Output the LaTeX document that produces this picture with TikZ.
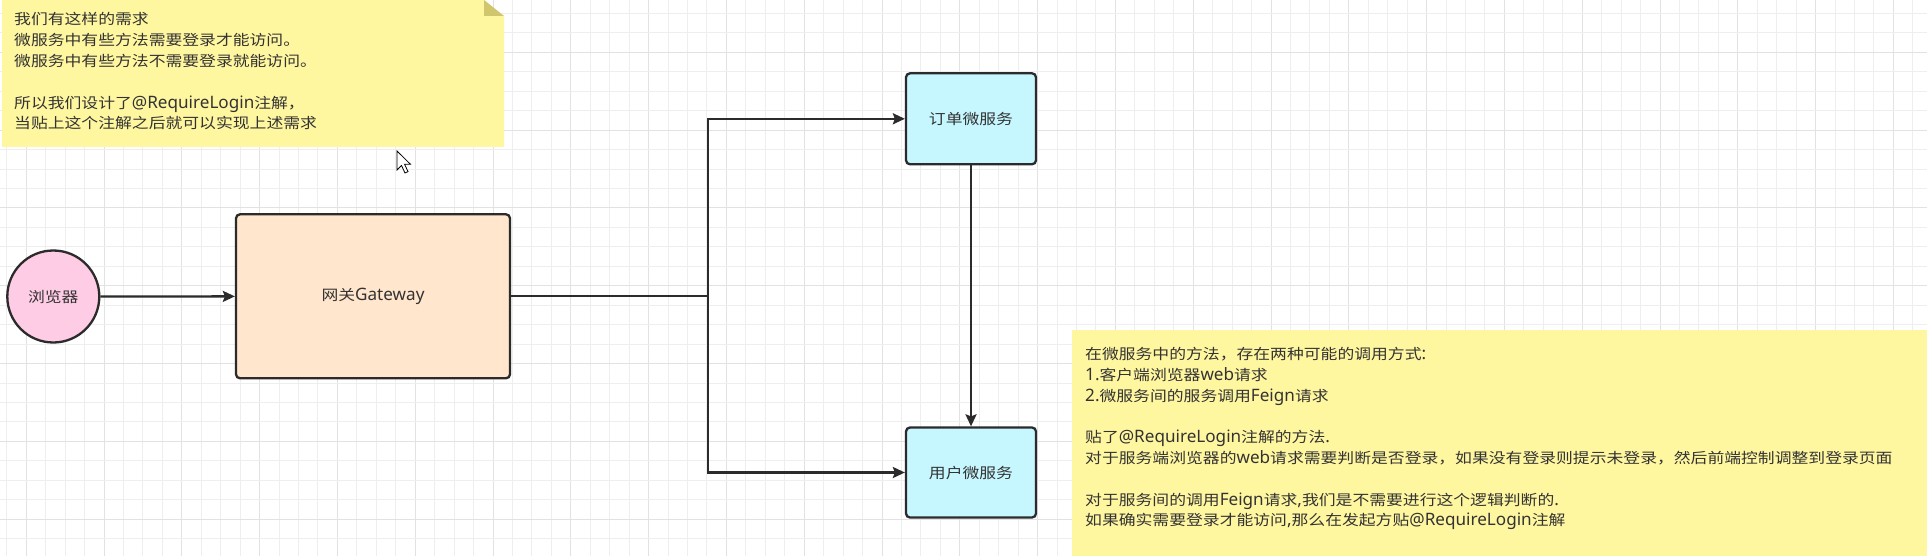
\documentclass[tikz,border=0pt]{standalone}
\usepackage{fontspec}
\setmainfont{Noto Sans CJK SC}[FakeStretch=1.16]
\newfontfamily\latfont{Noto Sans}[Scale=1.18]
\newcommand{\LL}[1]{{\latfont #1}}
\usetikzlibrary{arrows.meta}
\definecolor{txt}{HTML}{333333}
\definecolor{edge}{HTML}{2B2B2B}
\definecolor{notefill}{RGB}{255,246,160}
\definecolor{notefold}{RGB}{207,198,110}
\definecolor{pinkfill}{RGB}{255,204,230}
\definecolor{peachfill}{RGB}{255,230,204}
\definecolor{cyanfill}{RGB}{198,247,255}
\definecolor{gridminor}{RGB}{238,238,238}
\definecolor{gridmajor}{RGB}{226,226,226}
\tikzset{
  every node/.style={font=\fontsize{14.5}{20.8}\selectfont, text=txt},
  boxstyle/.style={draw=edge, line width=2.3pt, rounded corners=4pt, inner sep=0pt},
  notetext/.style={align=left, anchor=north west, inner sep=0pt},
  conn/.style={draw=edge, line width=2.3pt, -{Stealth[length=12pt,width=11pt,inset=2pt]}},
  plainconn/.style={draw=edge, line width=2.3pt},
}
\begin{document}
\begin{tikzpicture}[x=1pt,y=-1pt]
\useasboundingbox (0,0) rectangle (1927,556);
\fill[white] (0,0) rectangle (1927,556);
% grid
\foreach \k in {0,...,99}{
  \pgfmathsetmacro{\gx}{6.75+19.45*\k}
  \pgfmathtruncatemacro{\m}{mod(\k,4)}
  \ifnum\m=1
    \draw[gridmajor, line width=1pt] (\gx,0) -- (\gx,556);
  \else
    \draw[gridminor, line width=1pt] (\gx,0) -- (\gx,556);
  \fi
}
\foreach \k in {0,...,28}{
  \pgfmathsetmacro{\gy}{13.5+19.45*\k}
  \pgfmathtruncatemacro{\m}{mod(\k,4)}
  \ifnum\m=2
    \draw[gridmajor, line width=1pt] (0,\gy) -- (1927,\gy);
  \else
    \draw[gridminor, line width=1pt] (0,\gy) -- (1927,\gy);
  \fi
}
% top note
\fill[notefill] (2,0) -- (484,0) -- (504,16) -- (504,147) -- (2,147) -- cycle;
\fill[notefold] (484,0) -- (484,16) -- (504,16) -- cycle;
\node[notetext] (note1) at (14,12.5) {我们有这样的需求\\微服务中有些方法需要登录才能访问。\\微服务中有些方法不需要登录就能访问。\\~\\所以我们设计了\LL{@RequireLogin}注解，\\当贴上这个注解之后就可以实现上述需求};
% bottom note
\fill[notefill] (1072,330) rectangle (1927,556);
\node[notetext] (note2) at (1085,347) {在微服务中的方法，存在两种可能的调用方式\LL{:}\\\LL{1.}客户端浏览器\LL{web}请求\\\LL{2.}微服务间的服务调用\LL{Feign}请求\\~\\贴了\LL{@RequireLogin}注解的方法\LL{.}\\对于服务端浏览器的\LL{web}请求需要判断是否登录，如果没有登录则提示未登录，然后前端控制调整到登录页面\\~\\对于服务间的调用\LL{Feign}请求\LL{,}我们是不需要进行这个逻辑判断的\LL{.}\\如果确实需要登录才能访问\LL{,}那么在发起方贴\LL{@RequireLogin}注解};
% nodes
\node[circle, draw=edge, line width=2.3pt, fill=pinkfill, minimum size=92pt, inner sep=0pt] (browser) at (53.3,296.5) {浏览器};
\node[boxstyle, fill=peachfill, minimum width=274pt, minimum height=164pt] (gw) at (373,296.3) {网关\LL{Gateway}};
\node[boxstyle, fill=cyanfill, minimum width=130pt, minimum height=91pt] (order) at (971,118.8) {订单微服务};
\node[boxstyle, fill=cyanfill, minimum width=130pt, minimum height=90pt] (user) at (971,472.5) {用户微服务};
\coordinate (junc) at (708,296.3);
% connectors
\draw[conn] (browser) -- (gw);
\draw[plainconn] (gw.east) -- (junc);
\draw[conn] (junc) |- (order.west);
\draw[conn] (junc) |- (user.west);
\draw[conn] (order) -- (user);
% cursor
\draw[black, fill=white, line width=0.8pt, line join=miter] (397,151) -- (397,170) -- (401.5,165.5) -- (405,173) -- (408,171.6) -- (404.6,164.3) -- (410.5,164.3) -- cycle;
\end{tikzpicture}
\end{document}
